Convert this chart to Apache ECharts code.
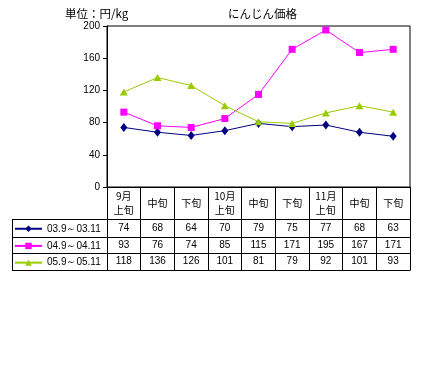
<!DOCTYPE html>
<html><head><meta charset="utf-8">
<script src="https://cdn.jsdelivr.net/npm/echarts@6/dist/echarts.min.js"></script>
<style>html,body{margin:0;padding:0;background:#fff}#c{width:429px;height:372px}</style>
</head><body><div id="c"></div>
<script>
const categories = ['9月\n上旬','中旬','下旬','10月\n上旬','中旬','下旬','11月\n上旬','中旬','下旬'];
const seriesNames = ['03.9～03.11','04.9～04.11','05.9～05.11'];
const s2003 = [74,68,64,70,79,75,77,68,63];
const s2004 = [93,76,74,85,115,171,195,167,171];
const s2005 = [118,136,126,101,81,79,92,101,93];
const yTicks = [0,40,80,120,160,200];

const FONT = '"Noto Sans CJK JP", sans-serif';
const colors = ['#000080','#FF00FF','#99CC00'];
const symbols = ['diamond','rect','triangle'];
const sizes = [[7,9],7,[8,7]];
const allData = [s2003,s2004,s2005];

const gridLeft = 107, gridRight = 19, gridTop = 26, gridBottomY = 187;
const rowLines = [219, 236.5, 253.3, 270];
const tableLeft = 12;
const rowCenter = k => (rowLines[k] + rowLines[k+1]) / 2;

const valueAxes = allData.map((arr, k) => ({
  type:'category', gridIndex:0, position:'bottom', data:categories,
  offset: rowCenter(k) - gridBottomY,
  axisLine:{show:false}, axisTick:{show:false}, splitLine:{show:false},
  axisLabel:{interval:0, margin:0, verticalAlign:'middle', color:'#000', fontSize:10,
    fontFamily:'Liberation Sans, sans-serif', hideOverlap:false,
    formatter:(v,i)=>String(arr[i])}
}));

const legends = seriesNames.map((n,k)=>({
  orient:'vertical', left:14, top:rowCenter(k)-4, padding:0, itemWidth:27, itemHeight:8,
  textStyle:{fontSize:10, fontFamily:'Liberation Sans, sans-serif', color:'#000'},
  data:[n]
}));

const chart = echarts.init(document.getElementById('c'), null, {renderer:'canvas'});
const W = 429;
const lines = [];
rowLines.forEach(y => lines.push({type:'line', shape:{x1:tableLeft, y1:Math.round(y)+0.5, x2:W-gridRight+0.5, y2:Math.round(y)+0.5}, style:{stroke:'#000', lineWidth:1}}));
lines.push({type:'line', shape:{x1:tableLeft+0.5, y1:Math.round(rowLines[0])+0.5, x2:tableLeft+0.5, y2:Math.round(rowLines[3])+0.5}, style:{stroke:'#000', lineWidth:1}});

chart.setOption({
  animation:false,
  backgroundColor:'#fff',
  graphic:[
    ...lines,
    {type:'text', left:65, top:8, style:{text:'単位：円/kg', fontSize:11.5, fontFamily:FONT, fill:'#000'}},
    {type:'text', left:228, top:8, style:{text:'にんじん価格', fontSize:11.5, fontFamily:FONT, fill:'#000'}}
  ],
  grid:{left:gridLeft, right:gridRight, top:gridTop, bottom:372-gridBottomY, show:true, borderColor:'#000', borderWidth:1, backgroundColor:'#fff'},
  legend:legends,
  xAxis:[{
    type:'category', data:categories, boundaryGap:true,
    axisLine:{lineStyle:{color:'#000', width:1}},
    axisTick:{show:true, interval:0, length:rowLines[3]-gridBottomY, lineStyle:{color:'#000'}},
    axisLabel:{interval:0, margin:16, verticalAlign:'middle', lineHeight:14, color:'#000', fontSize:10, fontFamily:FONT, hideOverlap:false},
    splitLine:{show:false}
  }, ...valueAxes],
  yAxis:{type:'value', min:yTicks[0], max:yTicks[yTicks.length-1], interval:40,
    axisLine:{show:true, lineStyle:{color:'#000'}},
    axisTick:{show:true, length:4, lineStyle:{color:'#000'}},
    axisLabel:{margin:7, color:'#000', fontSize:10, fontFamily:'Liberation Sans, sans-serif'},
    splitLine:{show:false}},
  series: allData.map((d,k)=>({
    name:seriesNames[k], type:'line', data:d, xAxisIndex:0,
    symbol:symbols[k], symbolSize:sizes[k], showAllSymbol:true,
    itemStyle:{color:colors[k]}, lineStyle:{color:colors[k], width:1}
  }))
});
</script></body></html>
